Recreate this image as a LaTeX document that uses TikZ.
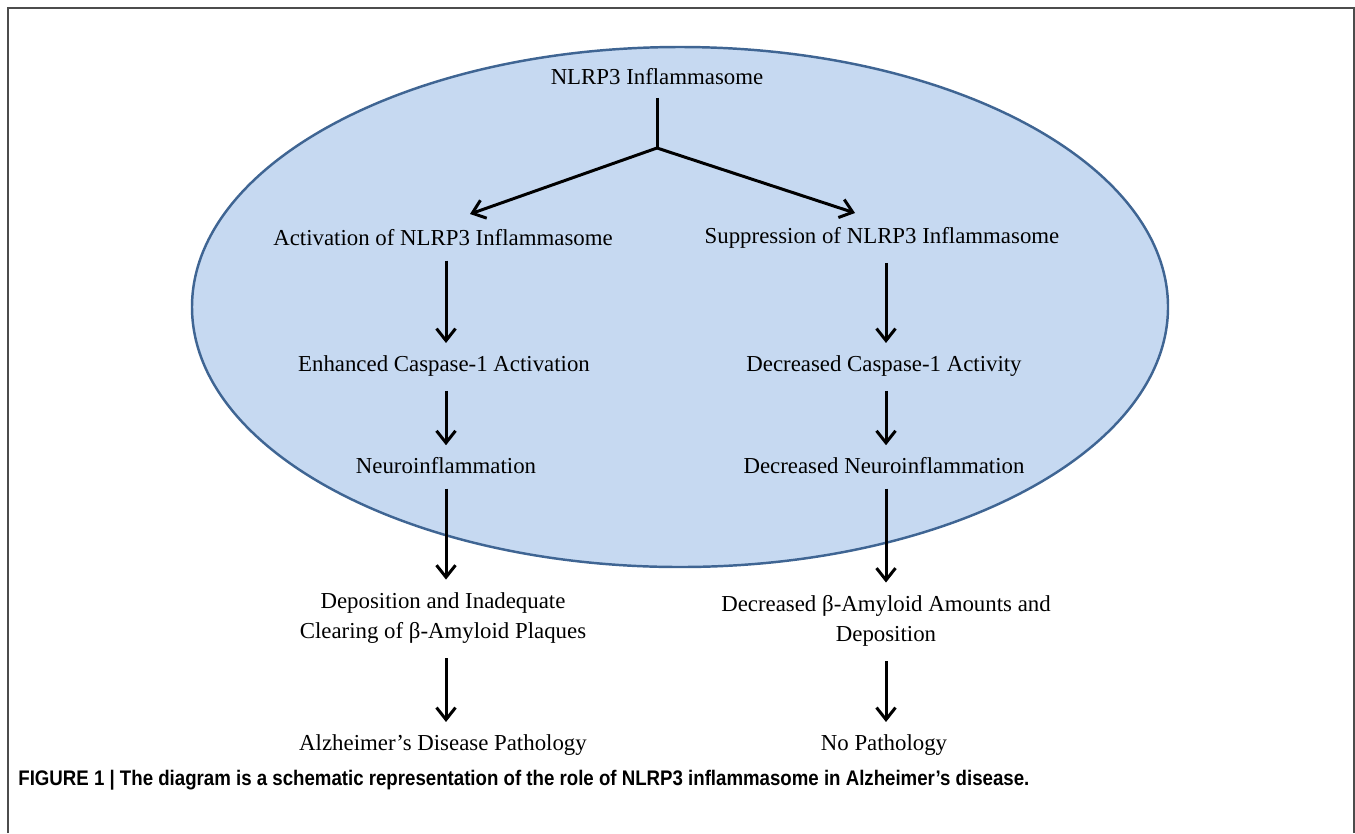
\documentclass[tikz,border=0pt]{standalone}
\usepackage{graphicx}
\usepackage{fontspec}
\setmainfont{Liberation Serif}
\newfontfamily\capfont{Liberation Sans}
\usetikzlibrary{arrows.meta, shapes.geometric, positioning}
\definecolor{ovalfill}{HTML}{C6D9F1}
\definecolor{ovaldraw}{HTML}{3F6593}

\begin{document}
\begin{tikzpicture}[x=0.02cm, y=-0.02cm, >={Straight Barb[length=2.4mm, width=3.8mm]}]
\tikzset{
  stage/.style={font=\fontsize{13}{17.5}\selectfont, align=center, inner sep=2pt},
  flow/.style={->, line width=1.7pt, shorten <=6pt, shorten >=5pt}
  };

\useasboundingbox (0,0) rectangle (1355,833);
\draw[gray!60!black, line width=1pt] (8,833) -- (8,8) -- (1354,8) -- (1354,833);

\draw[fill=ovalfill, draw=ovaldraw, line width=1.4pt] (680,307) ellipse [x radius=488, y radius=260];

\node[stage] (top)  at (657,77)  {NLRP3 Inflammasome};
\node[stage] (act)  at (443,238) {Activation of NLRP3 Inflammasome};
\node[stage] (sup)  at (882,238) {Suppression of NLRP3 Inflammasome};
\node[stage] (enh)  at (444,366) {Enhanced Caspase-1 Activation};
\node[stage] (dcas) at (884,366) {Decreased Caspase-1 Activity};
\node[stage] (neu)  at (446,466) {Neuroinflammation};
\node[stage] (dneu) at (884,466) {Decreased Neuroinflammation};
\node[stage] (dep)  at (443,618) {Deposition and Inadequate\\Clearing of β-Amyloid Plaques};
\node[stage] (dam)  at (886,621) {Decreased β-Amyloid Amounts and\\Deposition};
\node[stage] (ad)   at (443,745) {Alzheimer’s Disease Pathology};
\node[stage] (nop)  at (884,745) {No Pathology};

\node[anchor=west, inner sep=0pt, font=\capfont\bfseries\fontsize{12}{14}\selectfont] (cap) at (18,780)
  {\scalebox{0.885}[1]{FIGURE 1 | The diagram is a schematic representation of the role of NLRP3 inflammasome in Alzheimer’s disease.}};

% fork under the top node
\coordinate (fork)  at (657,148);
\coordinate (actin) at (470,214);
\coordinate (supin) at (855,213);
\draw[line width=1.7pt, shorten <=5pt] (top) -- (fork);
\draw[->, line width=1.7pt] (fork) -- (actin);
\draw[->, line width=1.7pt] (fork) -- (supin);

% left column
\draw[flow] (act.south -| 446,0) -- (enh.north -| 446,0);
\draw[flow] (enh.south -| 446,0) -- (neu.north -| 446,0);
\draw[flow] (neu.south -| 446,0) -- (dep.north -| 446,0);
\draw[flow] (dep.south -| 446,0) -- (ad.north -| 446,0);

% right column
\draw[flow] (sup.south -| 886,0) -- (dcas.north -| 886,0);
\draw[flow] (dcas.south -| 886,0) -- (dneu.north -| 886,0);
\draw[flow] (dneu.south -| 886,0) -- (dam.north -| 886,0);
\draw[flow] (dam.south -| 886,0) -- (nop.north -| 886,0);

\end{tikzpicture}
\end{document}
